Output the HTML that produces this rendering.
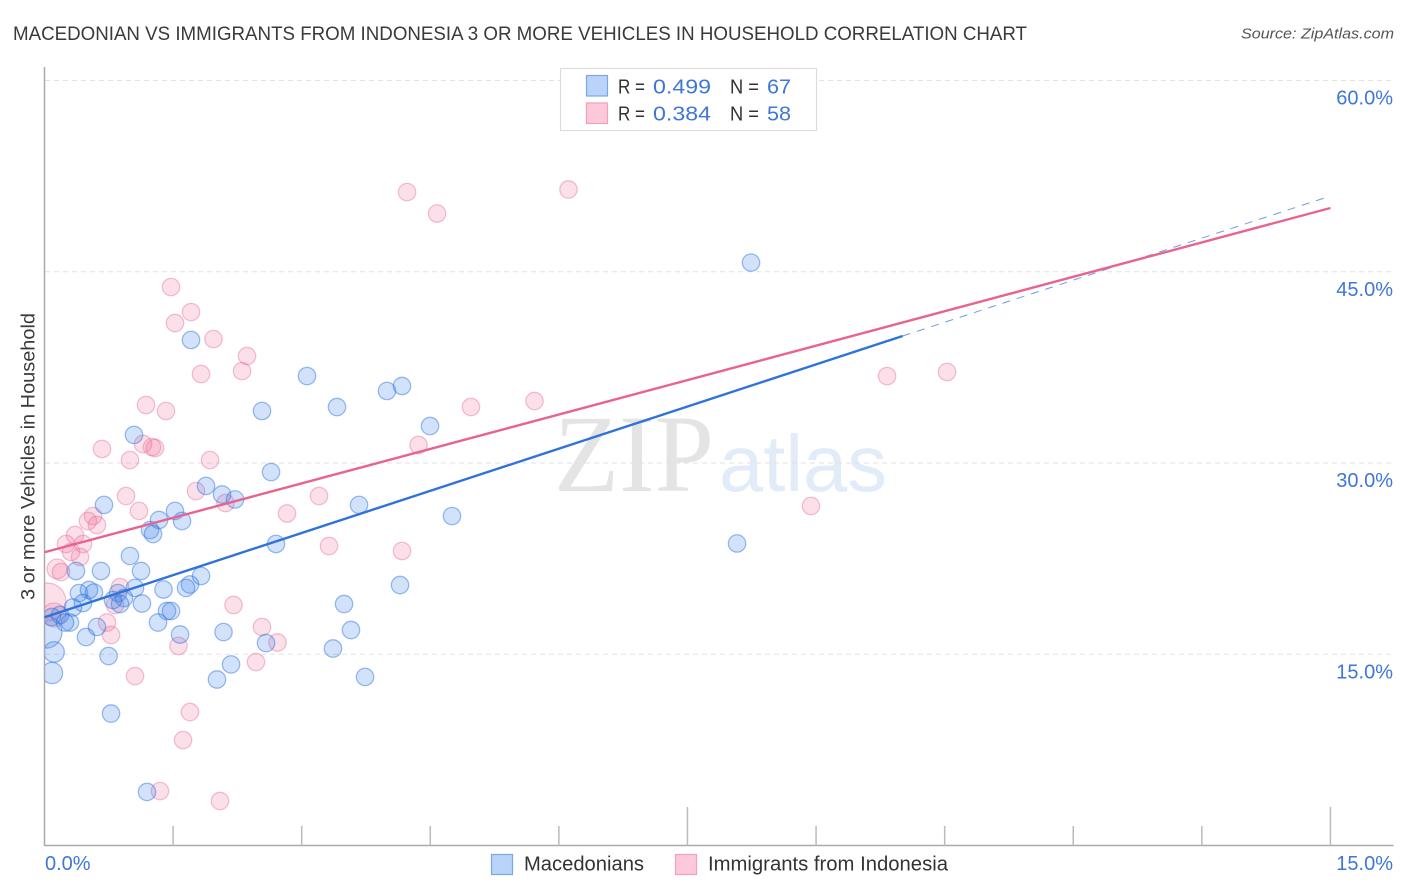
<!DOCTYPE html>
<html lang="en">
<head>
<meta charset="utf-8">
<title>Macedonian vs Immigrants from Indonesia correlation chart</title>
<style>
html,body{margin:0;padding:0;background:#fff;width:1406px;height:892px;overflow:hidden}
svg{display:block;font-family:"Liberation Sans",Arial,sans-serif}
</style>
</head>
<body>
<svg id="chart" xmlns="http://www.w3.org/2000/svg" width="1406" height="892" viewBox="0 0 1406 892">
  <defs>
    <clipPath id="plot-clip"><rect x="45" y="60" width="1349" height="785"/></clipPath>
  </defs>
  <rect x="0" y="0" width="1406" height="892" fill="#fff"/>
  <text x="13" y="40" font-size="19.5" fill="#3a3a3a" textLength="1014" lengthAdjust="spacingAndGlyphs">MACEDONIAN VS IMMIGRANTS FROM INDONESIA 3 OR MORE VEHICLES IN HOUSEHOLD CORRELATION CHART</text>
  <text x="1241" y="38.5" font-size="15" font-style="italic" fill="#555" textLength="153" lengthAdjust="spacingAndGlyphs">Source: ZipAtlas.com</text>
  <g>
    <text x="554" y="491" font-family="'Liberation Serif',serif" font-size="110" fill="#e4e4e4" textLength="160" lengthAdjust="spacingAndGlyphs">ZIP</text>
    <text x="719" y="491" font-size="80" fill="#e2ecf9" textLength="168" lengthAdjust="spacingAndGlyphs">atlas</text>
  </g>
  <g id="grid"></g>
  <g id="axes"></g>
  <g id="pink-points" clip-path="url(#plot-clip)"></g>
  <g id="blue-points" clip-path="url(#plot-clip)"></g>
  <g id="trends"></g>
  <text transform="translate(34.5,456.5) rotate(-90)" font-size="19.5" fill="#3a3a3a" text-anchor="middle" textLength="287" lengthAdjust="spacingAndGlyphs">3 or more Vehicles in Household</text>
  <g>
    <rect x="560.5" y="68.5" width="256" height="62" fill="#fff" stroke="#dcdcdc" stroke-width="1.2"/>
    <rect x="586.5" y="75.5" width="21" height="20.5" fill="#b9d4f8" stroke="#7ba8e4" stroke-width="1.2"/>
    <rect x="586.5" y="103" width="21" height="20.5" fill="#fdc9da" stroke="#f0a0b9" stroke-width="1.2"/>
    <text x="618" y="93.5" font-size="20" fill="#333" textLength="27" lengthAdjust="spacingAndGlyphs">R =</text>
    <text x="653" y="93.5" font-size="20.5" fill="#3f76d8" textLength="58" lengthAdjust="spacingAndGlyphs">0.499</text>
    <text x="730" y="93.5" font-size="20" fill="#333" textLength="29" lengthAdjust="spacingAndGlyphs">N =</text>
    <text x="767" y="93.5" font-size="20.5" fill="#3f76d8" textLength="24" lengthAdjust="spacingAndGlyphs">67</text>
    <text x="618" y="120.5" font-size="20" fill="#333" textLength="27" lengthAdjust="spacingAndGlyphs">R =</text>
    <text x="653" y="120.5" font-size="20.5" fill="#3f76d8" textLength="58" lengthAdjust="spacingAndGlyphs">0.384</text>
    <text x="730" y="120.5" font-size="20" fill="#333" textLength="29" lengthAdjust="spacingAndGlyphs">N =</text>
    <text x="767" y="120.5" font-size="20.5" fill="#3f76d8" textLength="24" lengthAdjust="spacingAndGlyphs">58</text>
  </g>
  <g>
    <rect x="491.5" y="854.5" width="21" height="20" fill="#b9d4f8" stroke="#7ba8e4" stroke-width="1.2"/>
    <text x="524" y="870.5" font-size="20" fill="#333" textLength="120" lengthAdjust="spacingAndGlyphs">Macedonians</text>
    <rect x="675.5" y="854.5" width="21" height="20" fill="#fdc9da" stroke="#f0a0b9" stroke-width="1.2"/>
    <text x="708" y="870.5" font-size="20" fill="#333" textLength="240" lengthAdjust="spacingAndGlyphs">Immigrants from Indonesia</text>
  </g>
</svg>
<script>
const yTickValues = [15, 30, 45, 60];
const yTickLabels = ["15.0%", "30.0%", "45.0%", "60.0%"];
const xTickValues = [1.5, 3, 4.5, 6, 7.5, 9, 10.5, 12, 13.5, 15];
const xMajorTickValues = [7.5, 15];
const xEndValues = [0, 15];
const xEndLabels = ["0.0%", "15.0%"];

const blueX = [8.241,1.709,3.062,4.170,3.995,3.412,2.537,4.497,1.044,2.642,1.884,2.071,2.222,0.694,3.669,1.522,4.753,1.336,1.604,1.231,1.266,2.700,8.078,0.997,0.367,0.659,1.126,1.826,4.147,1.697,1.651,1.388,0.402,0.519,0.577,1.056,0.857,0.927,0.881,0.799,0.449,1.137,3.494,0.332,1.429,1.476,0.181,0.087,0.297,0.239,1.324,0.612,3.575,1.581,2.088,0.484,0.017,0.111,3.365,2.584,0.747,2.176,0.087,2.012,3.739,0.776,1.196];
const blueY = [45.72,39.65,36.82,36.04,35.65,34.39,34.08,32.90,32.20,29.29,28.20,27.53,27.14,26.71,26.71,26.24,25.84,25.53,25.45,24.74,24.43,23.65,23.69,22.71,21.53,21.53,21.53,21.14,20.43,20.47,20.20,20.08,19.80,20.04,19.84,20.20,19.80,19.41,18.94,19.25,19.02,18.98,18.94,18.67,18.39,18.39,18.08,17.92,17.49,17.49,17.49,17.14,16.90,16.55,16.74,16.35,16.74,15.18,15.45,15.88,14.86,14.20,13.53,13.02,13.22,10.35,4.20];
const blueWeight = [1,1,1,1,1,1,1,1,1,1,1,1,1,1,1,1,1,1,1,1,1,1,1,1,1,1,1,1,1,1,1,1,1,1,1,1,1,1,1,1,1,1,1,1,1,1,1,1,1,1,1,1,1,1,1,1,3.4,1.4,1,1,1,1,1.5,1,1,1,1];

const pinkX = [4.229,6.112,4.579,1.476,1.709,1.522,1.971,2.362,2.304,1.826,9.828,10.528,5.716,1.184,4.975,1.417,4.363,1.149,1.254,1.289,0.671,0.997,1.931,1.767,0.951,3.202,2.111,8.941,1.102,2.829,0.566,0.507,0.612,0.356,0.251,0.449,3.319,4.170,0.309,0.414,0.146,0.192,0.881,2.205,0.822,0.029,0.111,0.729,2.537,0.776,1.563,2.718,2.467,1.056,1.697,1.616,1.347,2.047];
const pinkY = [51.25,51.45,49.57,43.80,41.84,40.98,39.72,38.39,37.21,36.98,36.82,37.14,34.86,34.55,34.39,34.08,31.41,31.49,31.25,31.18,31.10,30.23,30.23,27.80,27.41,27.41,26.86,26.63,26.24,26.04,25.84,25.45,25.14,24.35,23.65,23.65,23.49,23.10,23.02,22.63,21.69,21.45,20.27,18.86,18.86,19.10,18.08,17.49,17.14,16.51,15.65,15.92,14.39,13.29,10.47,8.27,4.27,3.49];
const pinkWeight = [1,1,1,1,1,1,1,1,1,1,1,1,1,1,1,1,1,1,1,1,1,1,1,1,1,1,1,1,1,1,1,1,1,1,1,1,1,1,1,1,1.3,1,1,1,1,4.8,1.9,1,1,1,1,1,1,1,1,1,1,1];

const blueTrendX = [0, 10.01];
const blueTrendY = [17.9, 39.96];
const blueForecastX = [10.01, 15];
const blueForecastY = [39.96, 50.94];
const pinkTrendX = [0, 15];
const pinkTrendY = [23.0, 50.0];

const SVG_NS = "http://www.w3.org/2000/svg";
const xScale = v => 44.5 + v * 85.73;
const yScale = v => 845.5 - v * 12.75;
const radius = w => 8.7 * Math.sqrt(w);

function make(tag, parentId, attrs, text) {
  const el = document.createElementNS(SVG_NS, tag);
  for (const k in attrs) el.setAttribute(k, attrs[k]);
  if (text !== undefined) el.textContent = text;
  document.getElementById(parentId).appendChild(el);
  return el;
}

yTickValues.forEach((v, i) => {
  const line = make("line", "grid", {x1: 45, x2: 1393, y1: yScale(v), y2: yScale(v), stroke: "#e2e2e2", "stroke-width": 1, "stroke-dasharray": "5 4"});
  
  
  const label = make("text", "axes", {x: 1393, y: yScale(v) + 24, "font-size": 20, fill: "#3f76d8", "text-anchor": "end"}, yTickLabels[i]);
  
  
});

const yAxis = make("line", "axes", {x1: 44.5, x2: 44.5, y1: 67, y2: 846, stroke: "#aaa", "stroke-width": 1.5});


const xAxis = make("line", "axes", {x1: 44, x2: 1393.5, y1: 845.5, y2: 845.5, stroke: "#aaa", "stroke-width": 1.5});



xTickValues.forEach(v => {
  const top = xMajorTickValues.includes(v) ? 807 : 826;
  const tick = make("line", "axes", {x1: xScale(v), x2: xScale(v), y1: top, y2: 845.5, stroke: "#bbb", "stroke-width": 1.5});
  
  
});

xEndValues.forEach((v, i) => {
  const label = make("text", "axes", {x: i === 0 ? 45 : 1393, y: 870, "font-size": 20, fill: "#3f76d8", "text-anchor": i === 0 ? "start" : "end"}, xEndLabels[i]);
  
  
});

pinkX.forEach((x, i) => {
  const c = make("circle", "pink-points", {cx: xScale(x), cy: yScale(pinkY[i]), r: radius(pinkWeight[i]), fill: "rgba(240,100,145,0.2)", stroke: "rgba(228,110,150,0.42)", "stroke-width": 1.3});
  
  
});

blueX.forEach((x, i) => {
  const c = make("circle", "blue-points", {cx: xScale(x), cy: yScale(blueY[i]), r: radius(blueWeight[i]), fill: "rgba(59,130,235,0.23)", stroke: "rgba(40,110,220,0.45)", "stroke-width": 1.3});
  
  
});

const forecast = make("line", "trends", {x1: xScale(blueForecastX[0]), y1: yScale(blueForecastY[0]), x2: xScale(blueForecastX[1]), y2: yScale(blueForecastY[1]), stroke: "#6f9cdd", "stroke-width": 1, "stroke-dasharray": "8 7"});


const blueTrend = make("line", "trends", {x1: xScale(blueTrendX[0]), y1: yScale(blueTrendY[0]), x2: xScale(blueTrendX[1]), y2: yScale(blueTrendY[1]), stroke: "#2f73d9", "stroke-width": 2.4});


const pinkTrend = make("line", "trends", {x1: xScale(pinkTrendX[0]), y1: yScale(pinkTrendY[0]), x2: xScale(pinkTrendX[1]), y2: yScale(pinkTrendY[1]), stroke: "#e8648f", "stroke-width": 2.4});


</script>
</body>
</html>
